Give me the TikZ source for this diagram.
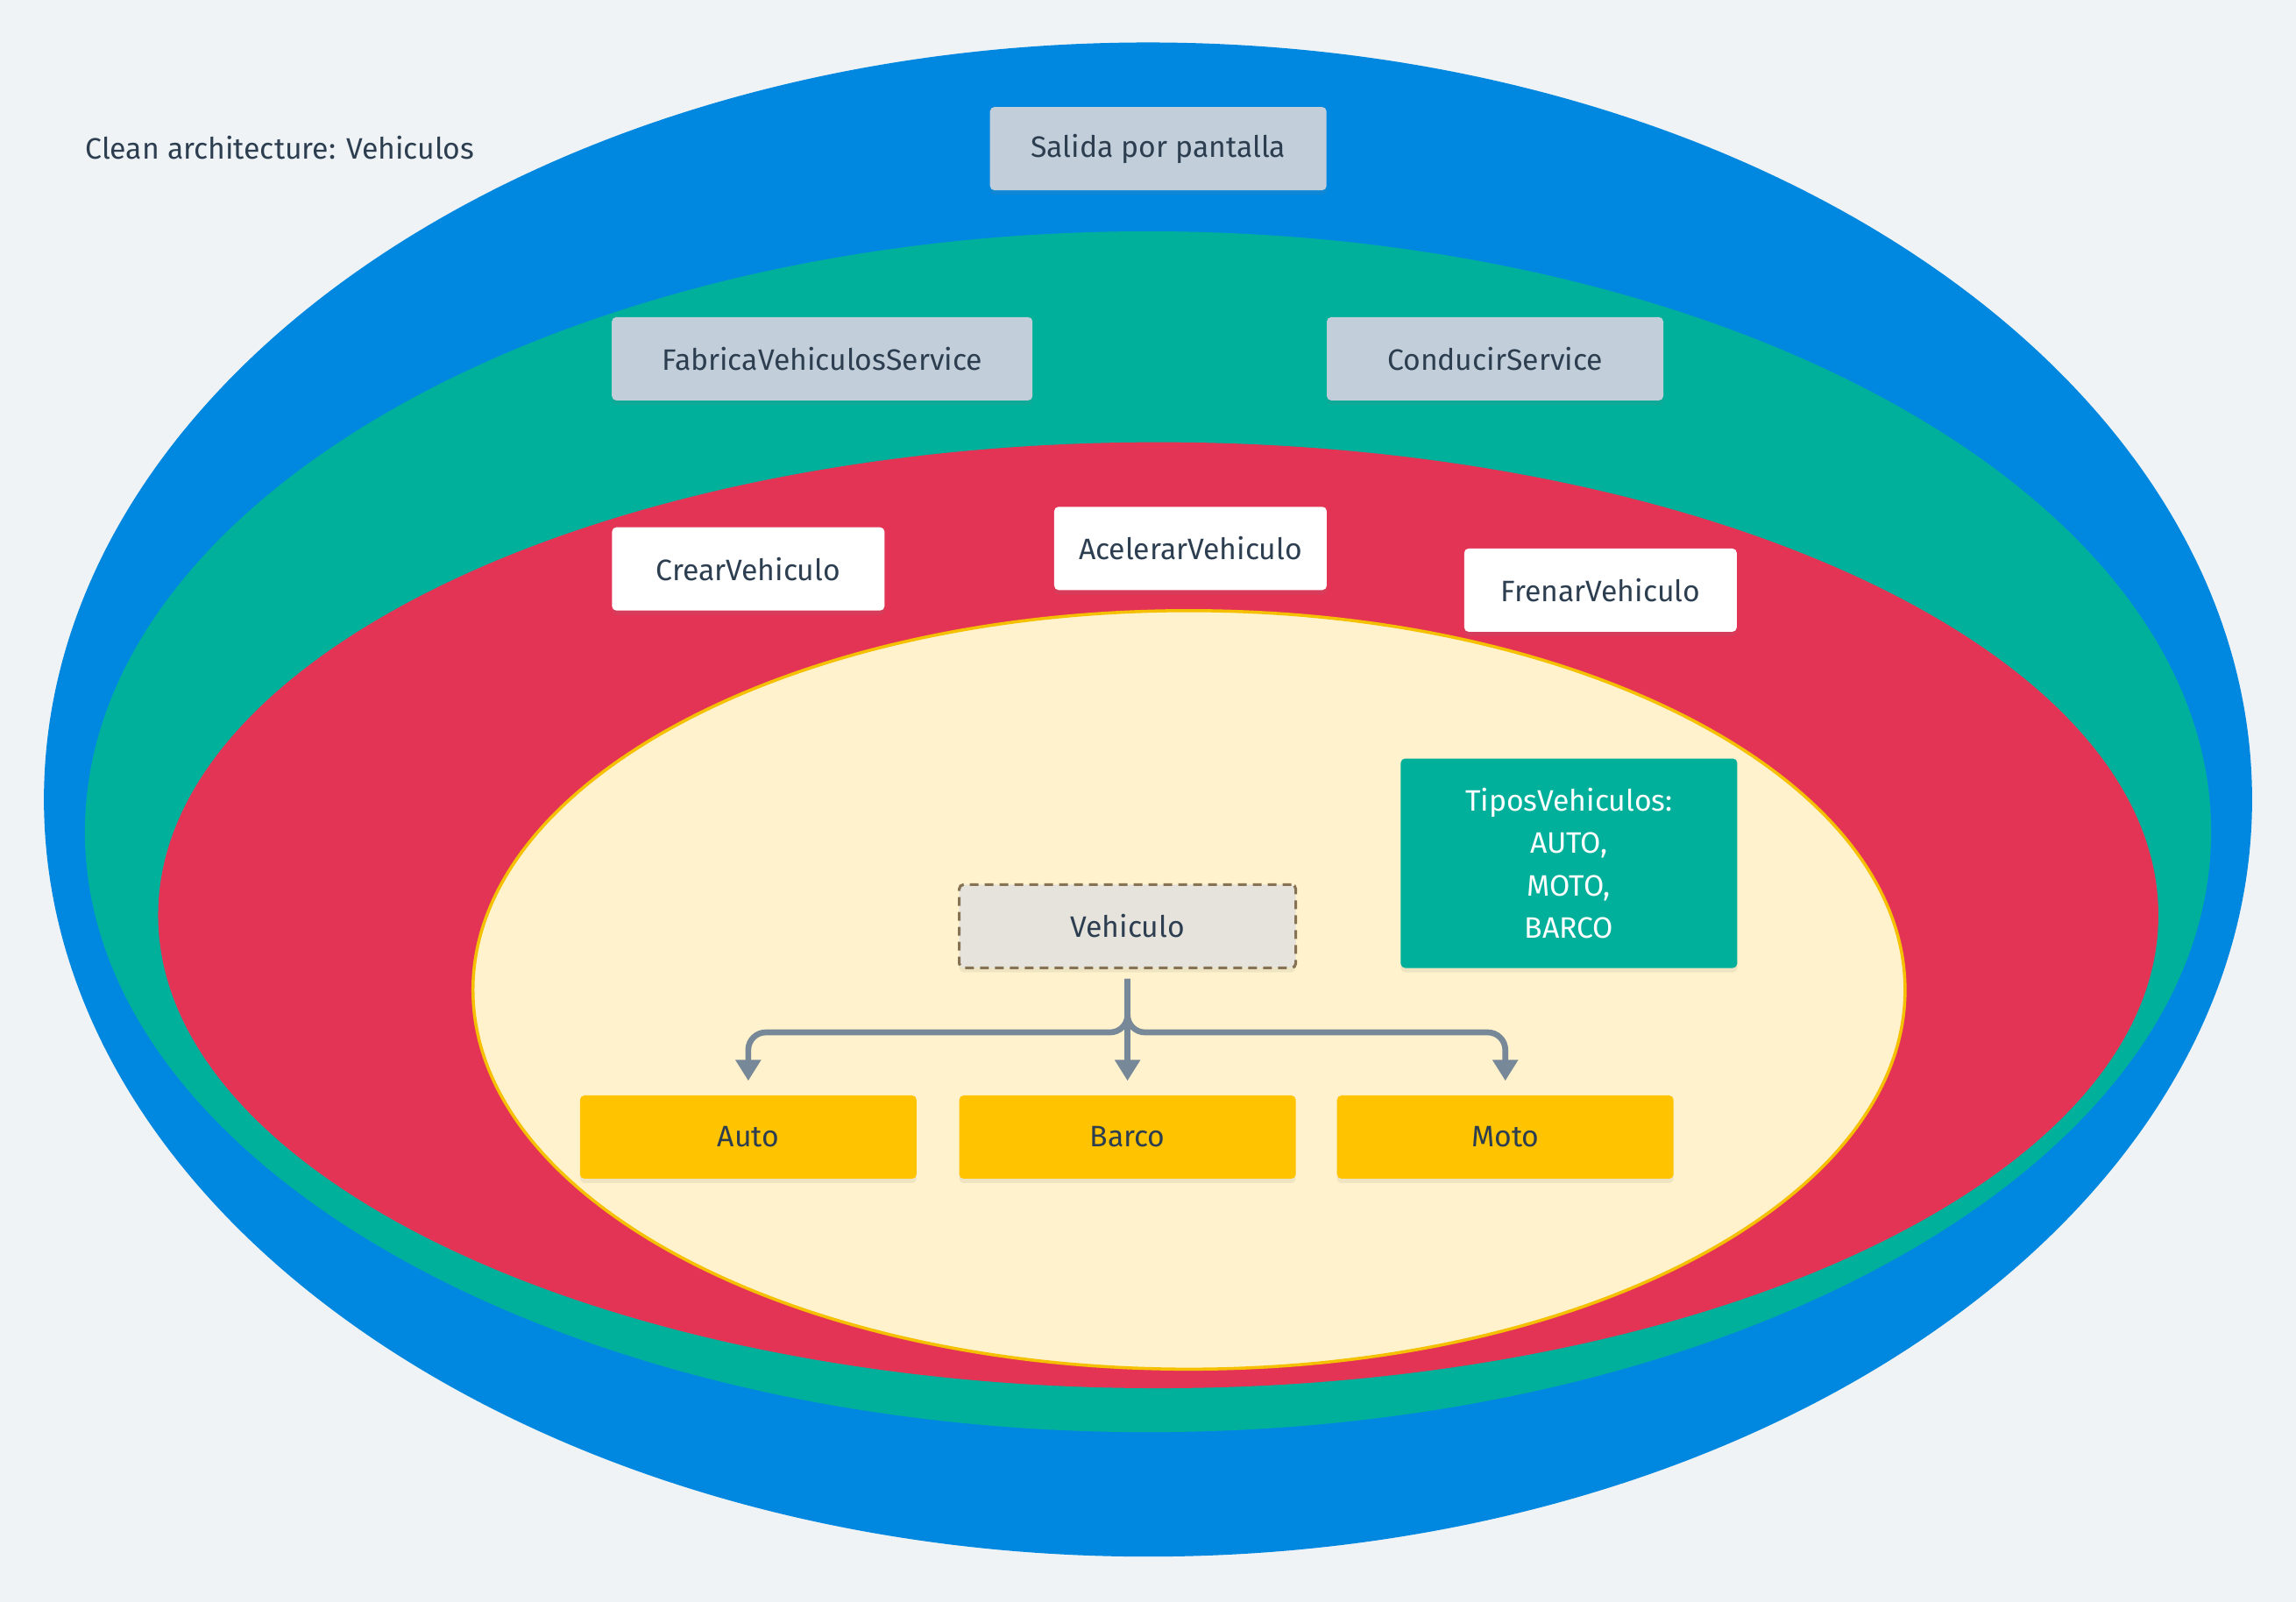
\documentclass[tikz,border=0pt]{standalone}
\usepackage{fontspec}
\setmainfont{Fira Sans}
\usepackage{tikz}
\usetikzlibrary{
	arrows.meta,
	calc,
	positioning,
	shadows,
}
\definecolor{bgcol}{HTML}{EFF3F6}
\definecolor{ringblue}{HTML}{0088E0}
\definecolor{ringteal}{HTML}{00B09B}
\definecolor{ringred}{HTML}{E43455}
\definecolor{corecol}{HTML}{FFF2CC}
\definecolor{coreline}{HTML}{F5C000}
\definecolor{txtcol}{HTML}{2C3E50}
\definecolor{greybox}{HTML}{C2CFDA}
\definecolor{yellowbox}{HTML}{FFC300}
\definecolor{absfill}{HTML}{E6E3DC}
\definecolor{absline}{HTML}{857353}
\definecolor{conncol}{HTML}{778899}
\tikzset{box/.style={draw=none,rectangle,rounded corners=0.5mm,minimum width=38.4mm,minimum height=9.5mm,font=\fontsize{9.6}{12}\selectfont,text=txtcol,drop shadow={opacity=0.12,shadow xshift=0mm,shadow yshift=-0.5mm},}}
\tikzset{outer box/.style={box,fill=greybox,}}
\tikzset{use box/.style={box,fill=white,minimum width=31.1mm,}}
\tikzset{entity box/.style={box,fill=yellowbox,}}
\tikzset{abstract box/.style={box,fill=absfill,draw=absline,dashed,dash pattern=on 1mm off 0.7mm,line width=0.9pt,drop shadow={opacity=0}}}
\tikzset{conn/.style={draw=conncol,line width=1.9pt,rounded corners=2mm,-{Triangle[width=2.8mm,length=2.4mm]},shorten >=1.6mm,}}
\tikzset{
	on grid,
	thick,
}

\begin{document}
\begin{tikzpicture}[x=0.1671mm,y=-0.1671mm]
\fill[bgcol] (0,0) rectangle (1568,1094);
\useasboundingbox (0,0) rectangle (1568,1094);

% rings
\fill[ringblue] (784,546) ellipse [x radius=754,y radius=517];
\fill[ringteal] (784,568) ellipse [x radius=726,y radius=410];
\fill[ringred] (791,625) ellipse [x radius=683,y radius=323];
\filldraw[fill=corecol,draw=coreline,line width=1pt] (812,676) ellipse [x radius=489,y radius=259];

\node[anchor=west,inner sep=0pt,text=txtcol,font=\fontsize{9.6}{12}\selectfont] (title) at (58,101) {Clean architecture: Vehiculos};

\node[outer box] (salida) at (791,101.5) {Salida por pantalla};
\node[outer box,minimum width=48mm] (fabrica) at (561.5,245) {FabricaVehiculosService};
\node[outer box] (conducir) at (1021,245) {ConducirService};

\node[use box] (crear) at (511,388.5) {CrearVehiculo};
\node[use box] (acelerar) at (813,374.5) {AcelerarVehiculo};
\node[use box] (frenar) at (1093,403) {FrenarVehiculo};

\node[box,fill=ringteal,text=white,minimum height=23.9mm,align=center,font=\fontsize{9.6}{13.8}\selectfont] (tipos) at (1071.5,589.5) {TiposVehiculos:\\AUTO,\\MOTO,\\BARCO};

\node[abstract box] (vehiculo) at (770,632.5) {Vehiculo};
\node[entity box] (auto) at (511,776.5) {Auto};
\node[entity box] (barco) at (770,776.5) {Barco};
\node[entity box] (moto) at (1028,776.5) {Moto};

\coordinate (split) at (770,705);
\draw[conn] ([yshift=-1.1mm]vehiculo.south) |- (split -| auto.north) -- (auto.north);
\draw[conn] ([yshift=-1.1mm]vehiculo.south) |- (split -| moto.north) -- (moto.north);
\draw[conn] ([yshift=-1.1mm]vehiculo.south) -- (barco.north);
\end{tikzpicture}
\end{document}
